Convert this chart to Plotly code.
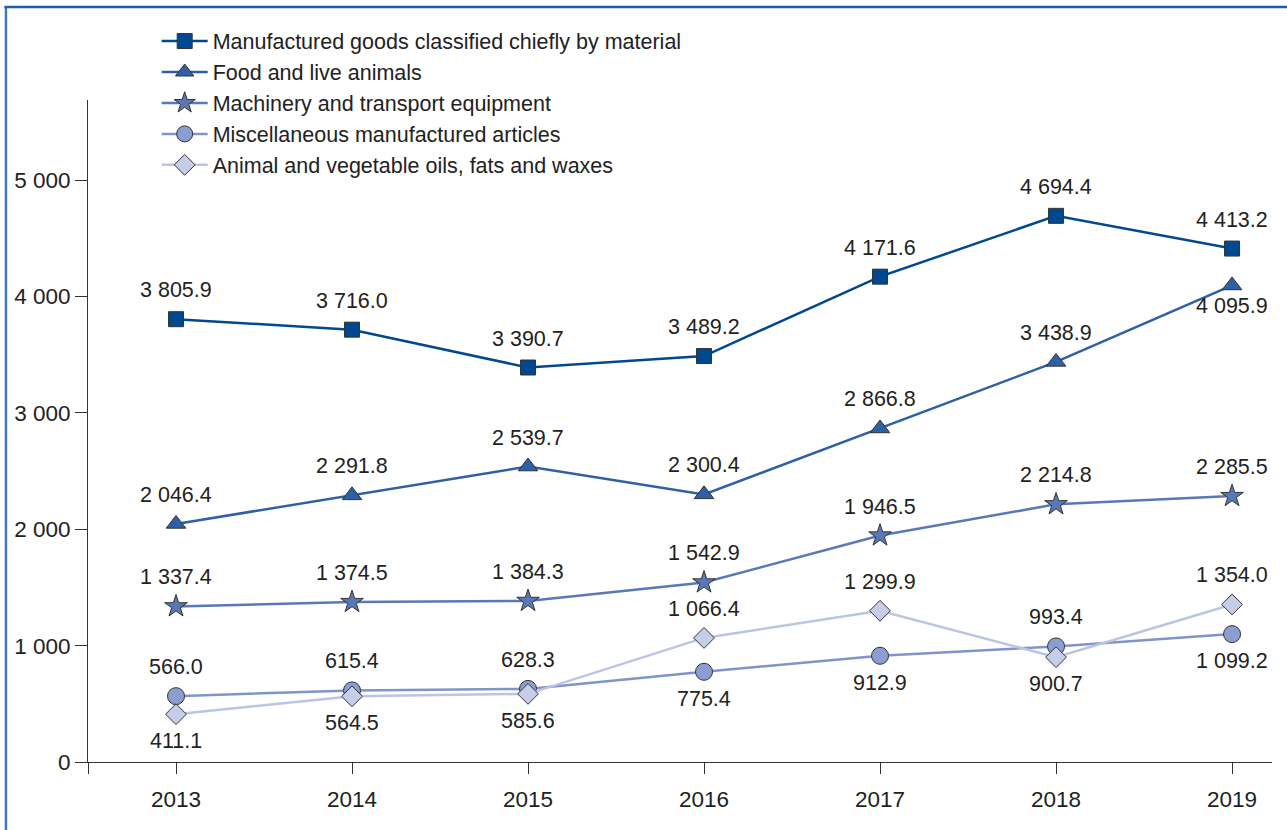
import plotly.graph_objects as go

years = [2013, 2014, 2015, 2016, 2017, 2018, 2019]
manufactured = [3805.9, 3716.0, 3390.7, 3489.2, 4171.6, 4694.4, 4413.2]
food = [2046.4, 2291.8, 2539.7, 2300.4, 2866.8, 3438.9, 4095.9]
machinery = [1337.4, 1374.5, 1384.3, 1542.9, 1946.5, 2214.8, 2285.5]
misc = [566.0, 615.4, 628.3, 775.4, 912.9, 993.4, 1099.2]
oils = [411.1, 564.5, 585.6, 1066.4, 1299.9, 900.7, 1354.0]

names = [
    "Manufactured goods classified chiefly by material",
    "Food and live animals",
    "Machinery and transport equipment",
    "Miscellaneous manufactured articles",
    "Animal and vegetable oils, fats and waxes",
]

T, B, b = 29, -27, -21
series = [
    (manufactured, "square", 15, "#004990", "#004990", [T] * 7),
    (food, "triangle-up", 17, "#2f5fa5", "#2f5fa5", [T] * 6 + [b]),
    (machinery, "star", 17, "#5a78b6", "#5a78b6", [T] * 7),
    (misc, "circle", 17, "#7f95c9", "#8a9ed2", [T, T, T, B, B, T, B]),
    (oils, "diamond", 16, "#bcc4e3", "#c6cde8", [B, B, B, T, T, B, T]),
]

FONT = "Liberation Sans, Arial, sans-serif"
fig = go.Figure()
annotations = []
for i, (vals, sym, size, lc, fc, shifts) in enumerate(series):
    fig.add_trace(go.Scatter(
        x=years, y=vals, name=names[i], mode="lines+markers",
        line=dict(color=lc, width=2.5),
        marker=dict(symbol=sym, size=size, color=fc, line=dict(color="#333333", width=1)),
        legendgroup=str(i), cliponaxis=False,
    ))
    for x, v, s in zip(years, vals, shifts):
        annotations.append(dict(
            x=x, y=v, xref="x", yref="y", text=f"{v:,.1f}".replace(",", " "),
            showarrow=False, yshift=s, xanchor="center", yanchor="middle",
            font=dict(size=21.5, color="#222222", family=FONT),
        ))

fig.update_layout(
    width=1287, height=830,
    margin=dict(l=88, r=15, t=100, b=68),
    paper_bgcolor="white", plot_bgcolor="white",
    separators=". ",
    font=dict(family=FONT, size=21.5, color="#222222"),
    showlegend=True,
    legend=dict(x=0.058, y=1.12, xanchor="left", yanchor="top",
                traceorder="grouped", tracegroupgap=0,
                font=dict(size=21.5, color="#222222"), bgcolor="rgba(0,0,0,0)",
                itemwidth=46),
    xaxis=dict(range=[2012.5, 2019.227], tickvals=[2012.5] + years,
               ticktext=[""] + [str(y) for y in years],
               showgrid=False, zeroline=False, showline=True, linecolor="#333333",
               linewidth=1, ticks="outside", ticklen=11, tickcolor="#333333",
               tickfont=dict(size=22.5), ticklabelstandoff=6),
    yaxis=dict(range=[0, 5690], tickvals=[0, 1000, 2000, 3000, 4000, 5000],
               tickformat=",d", showgrid=False, zeroline=False, showline=True,
               linecolor="#333333", linewidth=1, ticks="outside", ticklen=12,
               tickcolor="#333333", tickfont=dict(size=22.5)),
    annotations=annotations,
    shapes=[
        dict(type="line", xref="paper", yref="paper", x0=-0.0693, x1=-0.0693,
             y0=1.1405, y1=-0.2, line=dict(color="#3d7cc0", width=2.5)),
        dict(type="line", xref="paper", yref="paper", x0=-0.0706, x1=1.1,
             y0=1.1405, y1=1.1405, line=dict(color="#1f5ea8", width=2.5)),
    ],
)

fig.write_html("out.html", config={"displayModeBar": False},
               post_script="document.body.style.margin='0px';")
